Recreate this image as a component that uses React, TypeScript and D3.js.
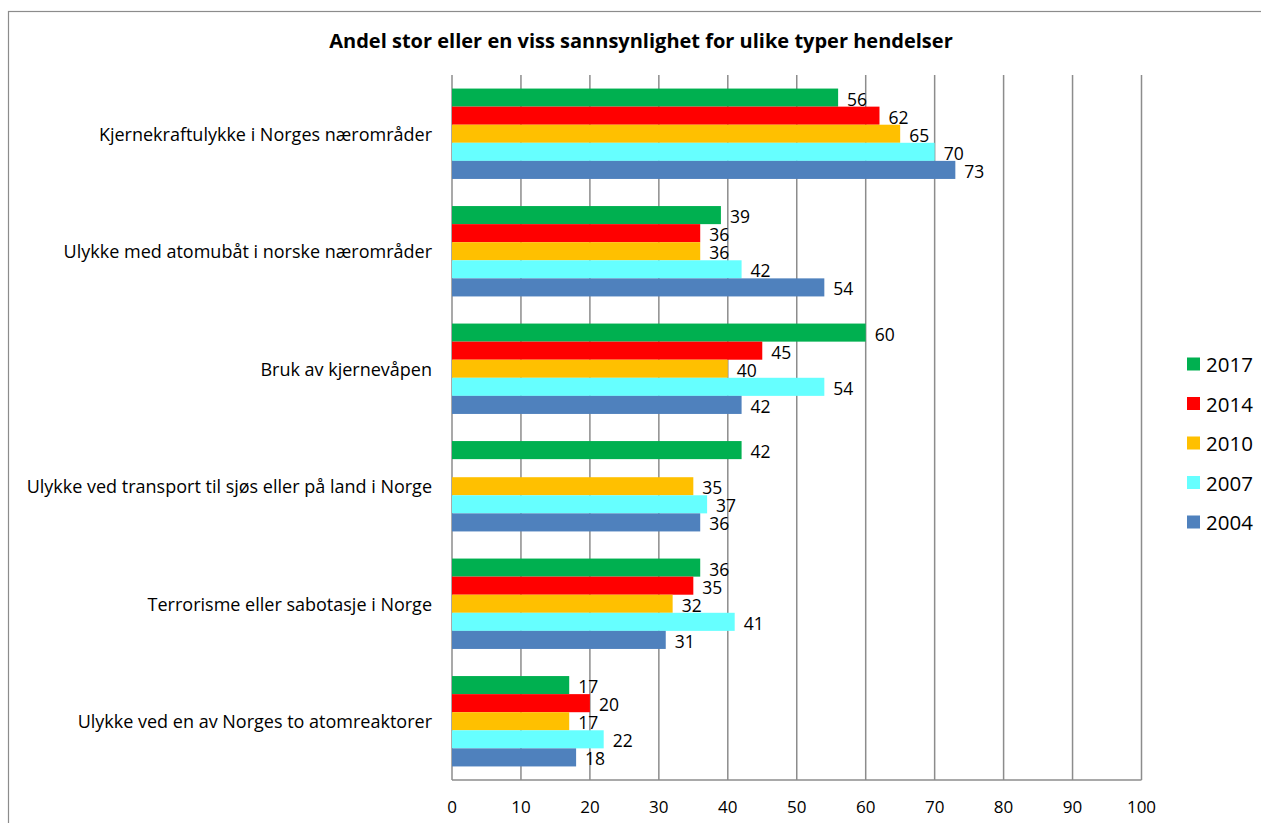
import React from "react";
import * as d3 from "d3";

const categories = [
  "Kjernekraftulykke i Norges nærområder",
  "Ulykke med atomubåt i norske nærområder",
  "Bruk av kjernevåpen",
  "Ulykke ved transport til sjøs eller på land i Norge",
  "Terrorisme eller sabotasje i Norge",
  "Ulykke ved en av Norges to atomreaktorer",
];
const seriesNames = ["2017", "2014", "2010", "2007", "2004"];
const v2017 = [56, 39, 60, 42, 36, 17];
const v2014: (number | null)[] = [62, 36, 45, null, 35, 20];
const v2010 = [65, 36, 40, 35, 32, 17];
const v2007 = [70, 42, 54, 37, 41, 22];
const v2004 = [73, 54, 42, 36, 31, 18];
const seriesValues = [v2017, v2014, v2010, v2007, v2004];
const colors = ["#00B050", "#FF0000", "#FFC000", "#66FFFF", "#4F81BD"];
const xTicks = [0, 10, 20, 30, 40, 50, 60, 70, 80, 90, 100];
const title = "Andel stor eller en viss sannsynlighet for ulike typer hendelser";

const W = 1261;
const H = 823;
const FONT = "'Open Sans', 'Liberation Sans', sans-serif";

export default function App() {
  const x = d3.scaleLinear().domain([0, 100]).range([452, 1141.5]);
  const y = d3.scaleBand<string>().domain(categories).range([75, 780]);
  const inner = d3
    .scaleBand<string>()
    .domain(seriesNames)
    .range([0, y.bandwidth()])
    .paddingOuter(0.75)
    .paddingInner(0);

  return (
    <svg
      width={W}
      height={H}
      style={{ position: "absolute", left: 0, top: 0, background: "#fff" }}
      fontFamily={FONT}
    >
      <rect x={8.5} y={11.5} width={W + 10} height={H + 10} fill="#fff" stroke="#8c8c8c" strokeWidth={1.2} />
      <text x={641} y={48} textAnchor="middle" fontSize={20} fontWeight="bold" fill="#000">
        {title}
      </text>
      {xTicks.map((t) => (
        <line key={"g" + t} x1={x(t)} x2={x(t)} y1={75} y2={780} stroke="#8c8c8c" strokeWidth={1.5} />
      ))}
      <line x1={x(0)} x2={x(100)} y1={780} y2={780} stroke="#8c8c8c" strokeWidth={1.5} />
      {xTicks.map((t) => (
        <text key={"t" + t} x={x(t)} y={813} textAnchor="middle" fontSize={17} fill="#000">
          {t}
        </text>
      ))}
      {categories.map((c) => (
        <text
          key={c}
          x={432}
          y={(y(c) as number) + y.bandwidth() / 2}
          textAnchor="end"
          dominantBaseline="central"
          fontSize={18}
          fill="#000"
        >
          {c}
        </text>
      ))}
      {seriesNames.map((s, si) =>
        categories.map((c, ci) => {
          const v = seriesValues[si][ci];
          if (v === null || v === undefined) return null;
          const by = (y(c) as number) + (inner(s) as number);
          const bh = inner.bandwidth();
          return (
            <g key={s + c}>
              <rect x={x(0)} y={by} width={x(v) - x(0)} height={bh} fill={colors[si]} />
              <text
                x={x(v) + 9}
                y={by + bh / 2 + 1}
                dominantBaseline="central"
                fontSize={17.5}
                fill="#000"
              >
                {v}
              </text>
            </g>
          );
        })
      )}
      {seriesNames.map((s, si) => {
        const ly = 364 + si * 39.5;
        return (
          <g key={"l" + s}>
            <rect x={1187} y={ly - 6.5} width={13} height={13} fill={colors[si]} />
            <text x={1206} y={ly} dominantBaseline="central" fontSize={20.5} fill="#000">
              {s}
            </text>
          </g>
        );
      })}
    </svg>
  );
}
